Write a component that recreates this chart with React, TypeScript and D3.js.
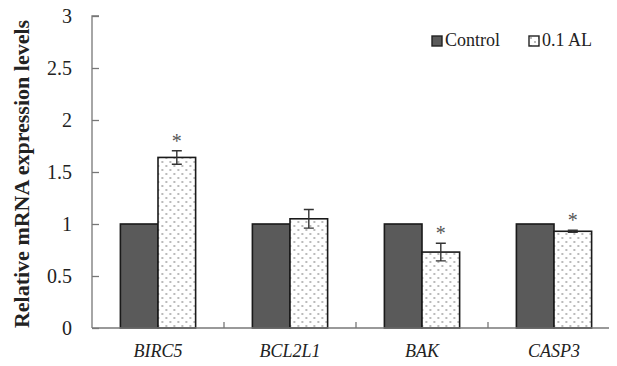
import { useEffect, useRef } from "react";
import * as d3 from "d3";

const WIDTH = 617;
const HEIGHT = 366;
const MARGIN = { top: 16, right: -3, bottom: 38, left: 92 };

const GENES = ["BIRC5", "BCL2L1", "BAK", "CASP3"];
const SERIES = ["Control", "0.1 AL"];
const CONTROL = [1, 1, 1, 1];
const TREATED = [1.64, 1.05, 0.73, 0.93];
const TREATED_ERR = [0.065, 0.09, 0.085, 0.01];
const SIGNIFICANT = [true, false, true, true];
const Y_TICKS = [0, 0.5, 1, 1.5, 2, 2.5, 3];

const FONT = "Liberation Serif";

export default function App() {
  const ref = useRef<SVGSVGElement>(null);

  useEffect(() => {
    const svg = d3.select(ref.current);
    svg.selectAll("*").remove();

    const bw = WIDTH - MARGIN.left - MARGIN.right;
    const bh = HEIGHT - MARGIN.top - MARGIN.bottom;

    const defs = svg.append("defs");
    const pat = defs
      .append("pattern")
      .attr("id", "dots")
      .attr("patternUnits", "userSpaceOnUse")
      .attr("width", 8)
      .attr("height", 8);
    pat.append("rect").attr("width", 8).attr("height", 8).attr("fill", "#fff");
    pat.append("circle").attr("cx", 2).attr("cy", 2).attr("r", 0.9).attr("fill", "#9a9a9a");
    pat.append("circle").attr("cx", 6).attr("cy", 6).attr("r", 0.9).attr("fill", "#9a9a9a");

    const g = svg.append("g").attr("transform", `translate(${MARGIN.left},${MARGIN.top})`);

    const x0 = d3.scaleBand().domain(GENES).range([0, bw]).paddingInner(0.43).paddingOuter(0.215);
    const x1 = d3.scaleBand().domain(SERIES).range([0, x0.bandwidth()]);
    const y = d3.scaleLinear().domain([0, 3]).range([bh, 0]);

    // y axis, ticks pointing inward
    const yAxis = g
      .append("g")
      .call(d3.axisRight(y).tickValues(Y_TICKS).tickSize(7).tickFormat((d) => `${d}`));
    yAxis.select(".domain").attr("stroke", "#777").attr("stroke-width", 1.3).attr("d", `M7,0H0V${bh}`);
    yAxis.selectAll(".tick line").attr("stroke", "#777").attr("stroke-width", 1.3);
    yAxis
      .selectAll(".tick text")
      .attr("x", -20)
      .attr("text-anchor", "end")
      .style("font-family", FONT)
      .style("font-size", "20px")
      .attr("fill", "#222");

    // bars
    const groups = g
      .selectAll(".grp")
      .data(GENES)
      .join("g")
      .attr("transform", (d) => `translate(${x0(d)},0)`);

    groups
      .append("rect")
      .attr("x", x1("Control")!)
      .attr("y", (_, i) => y(CONTROL[i]))
      .attr("width", x1.bandwidth())
      .attr("height", (_, i) => bh - y(CONTROL[i]))
      .attr("fill", "#5a5a5a")
      .attr("stroke", "#1a1a1a")
      .attr("stroke-width", 1.6);

    groups
      .append("rect")
      .attr("x", x1("0.1 AL")!)
      .attr("y", (_, i) => y(TREATED[i]))
      .attr("width", x1.bandwidth())
      .attr("height", (_, i) => bh - y(TREATED[i]))
      .attr("fill", "url(#dots)")
      .attr("stroke", "#1a1a1a")
      .attr("stroke-width", 1.6);

    // error bars + significance marks
    const cx = x1("0.1 AL")! + x1.bandwidth() / 2;
    groups.each(function (_, i) {
      const e = d3.select(this);
      const top = y(TREATED[i] + TREATED_ERR[i]);
      const bot = y(TREATED[i] - TREATED_ERR[i]);
      e.append("path")
        .attr("d", `M${cx - 5},${top}H${cx + 5}M${cx},${top}V${bot}M${cx - 5},${bot}H${cx + 5}`)
        .attr("stroke", "#333")
        .attr("stroke-width", 1.4)
        .attr("fill", "none");
      if (SIGNIFICANT[i]) {
        e.append("text")
          .attr("x", cx)
          .attr("y", top - 3)
          .attr("text-anchor", "middle")
          .style("font-family", FONT)
          .style("font-size", "20px")
          .attr("fill", "#555")
          .text("*");
      }
    });

    // x axis
    const xAxis = g.append("g").attr("transform", `translate(0,${bh})`);
    xAxis.append("line").attr("x1", 0).attr("x2", bw).attr("stroke", "#777").attr("stroke-width", 1.3);
    const step = x0.step();
    xAxis
      .selectAll(".sep")
      .data(GENES.slice(1))
      .join("line")
      .attr("x1", (d) => x0(d)! - (step - x0.bandwidth()) / 2)
      .attr("x2", (d) => x0(d)! - (step - x0.bandwidth()) / 2)
      .attr("y1", 0)
      .attr("y2", -6)
      .attr("stroke", "#777")
      .attr("stroke-width", 1.3);
    xAxis
      .selectAll(".lbl")
      .data(GENES)
      .join("text")
      .attr("x", (d) => x0(d)! + x0.bandwidth() / 2)
      .attr("y", 29)
      .attr("text-anchor", "middle")
      .style("font-family", FONT)
      .style("font-style", "italic")
      .style("font-size", "18px")
      .attr("fill", "#222")
      .text((d) => d);

    // y label
    svg
      .append("text")
      .attr("transform", `translate(29,${MARGIN.top + bh / 2 + 2}) rotate(-90)`)
      .attr("text-anchor", "middle")
      .style("font-family", FONT)
      .style("font-weight", "bold")
      .style("font-size", "22px")
      .attr("fill", "#222")
      .text("Relative mRNA expression levels");

    // legend
    const legend = svg.append("g").attr("transform", "translate(432,36)");
    const items = [
      { label: SERIES[0], fill: "#5a5a5a", x: 0 },
      { label: SERIES[1], fill: "url(#dots)", x: 97 },
    ];
    items.forEach((it) => {
      const lg = legend.append("g").attr("transform", `translate(${it.x},0)`);
      lg.append("rect")
        .attr("width", 10)
        .attr("height", 10)
        .attr("fill", it.fill)
        .attr("stroke", "#222")
        .attr("stroke-width", 1.4);
      lg.append("text")
        .attr("x", 13)
        .attr("y", 10)
        .style("font-family", FONT)
        .style("font-size", "18px")
        .attr("fill", "#222")
        .text(it.label);
    });
  }, []);

  return (
    <svg
      ref={ref}
      width={WIDTH}
      height={HEIGHT}
      style={{ display: "block", margin: "-8px", overflow: "visible" }}
    />
  );
}
